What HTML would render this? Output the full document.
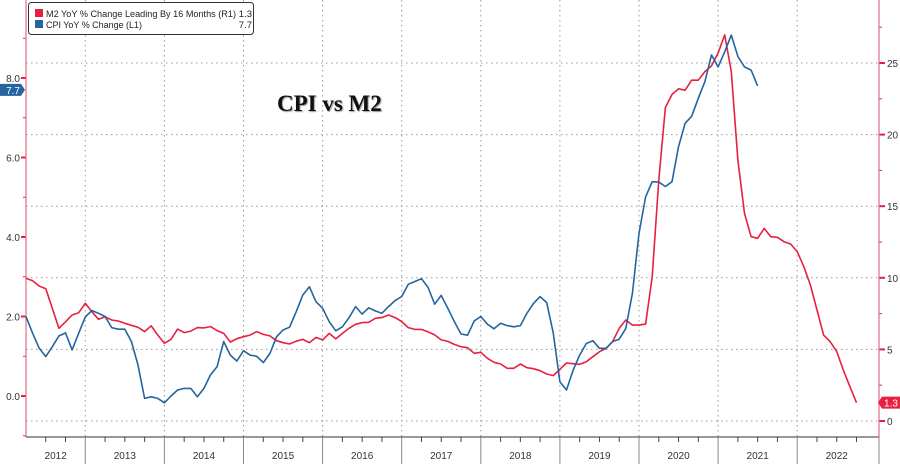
<!DOCTYPE html>
<html><head><meta charset="utf-8"><style>
html,body{margin:0;padding:0;background:#fff;width:900px;height:464px;overflow:hidden}
svg{display:block;font-family:"Liberation Sans",sans-serif}
</style></head><body>
<svg id="chart" width="900" height="464" viewBox="0 0 900 464">
<g id="grid"></g>
<g id="axes"></g>
<g id="series"></g>
<text x="277" y="111" font-family="Liberation Serif, serif" font-size="23" font-weight="bold" fill="#111" style="text-shadow:1px 1px 1px #999">CPI vs M2</text>
<g>
<rect x="28.5" y="2.5" width="225" height="32" rx="3" fill="#fff" stroke="#333" stroke-width="1"/>
<g><rect x="35" y="9" width="8" height="8" fill="#e8203f"/><text x="46" y="17" font-size="9" fill="#222" textLength="190" lengthAdjust="spacingAndGlyphs">M2 YoY % Change Leading By 16 Months (R1)</text><text x="252" y="17" font-size="9.5" fill="#222" text-anchor="end">1.3</text></g>
<g><rect x="35" y="20" width="8" height="8" fill="#2465a0"/><text x="46" y="28" font-size="9" fill="#222" textLength="96" lengthAdjust="spacingAndGlyphs">CPI YoY % Change (L1)</text><text x="252" y="28" font-size="9.5" fill="#222" text-anchor="end">7.7</text></g>
</g>
</svg>
<script>
const years = ["2012","2013","2014","2015","2016","2017","2018","2019","2020","2021","2022"];
const leftTicks = [0,2,4,6,8];
const rightTicks = [0,5,10,15,20,25];
const m2StartMonth = 3;
const m2Values = [9.97,9.8,9.43,9.24,7.87,6.47,6.93,7.4,7.56,8.22,7.63,7.1,7.28,7.05,6.98,6.82,6.68,6.54,6.24,6.65,6.0,5.43,5.7,6.42,6.17,6.28,6.52,6.5,6.59,6.31,6.12,5.52,5.75,5.89,6.0,6.24,6.05,5.94,5.61,5.47,5.38,5.57,5.7,5.47,5.84,
5.66,6.12,5.73,6.12,6.47,6.75,6.87,6.89,7.17,7.22,7.40,7.22,6.94,6.52,6.40,6.40,6.22,6.01,5.66,5.56,5.35,5.19,5.12,4.73,4.80,4.38,4.10,3.98,3.68,3.68,3.98,3.72,3.65,3.51,3.28,3.17,3.61,4.05,4.00,3.96,4.14,4.49,
4.84,5.07,5.54,6.47,7.05,6.70,6.70,6.77,10.08,16.83,21.9,22.8,23.2,23.1,23.8,23.8,24.4,24.8,25.7,26.96,24.4,18.2,14.5,12.87,12.76,13.45,12.87,12.83,12.52,12.36,11.83,10.78,9.5,7.75,6.0,5.54,4.84,3.56,2.4,1.28];
const cpiStartMonth = 3;
const cpiValues = [2.0,1.58,1.2,0.99,1.24,1.51,1.59,1.16,1.58,1.99,2.15,2.08,2.0,1.72,1.68,1.68,1.37,0.78,-0.06,-0.02,-0.06,-0.17,0.0,0.15,0.19,0.19,-0.02,0.19,0.53,0.74,1.37,1.03,0.88,1.14,1.03,1.0,0.84,1.07,1.49,1.66,1.73,2.12,2.54,2.75,2.37,
2.21,1.87,1.64,1.74,1.97,2.25,2.06,2.22,2.14,2.08,2.25,2.40,2.50,2.81,2.88,2.95,2.73,2.31,2.53,2.21,1.87,1.56,1.53,1.89,2.0,1.81,1.69,1.83,1.77,1.74,1.77,2.08,2.33,2.50,2.35,1.58,0.36,0.15,0.65,1.03,
1.32,1.39,1.20,1.20,1.37,1.43,1.70,2.58,4.09,5.01,5.39,5.38,5.27,5.39,6.27,6.86,7.04,7.49,7.91,8.58,8.28,8.66,9.08,8.54,8.28,8.20,7.80];

const NS="http://www.w3.org/2000/svg";
const X0=6.2, MW=79.1/12, L=26, R=879, B=437;
const xm=m=>X0+MW*m;
const yL=v=>396-v*39.75;
const yR=v=>421-v*14.32;
function mk(tag,attrs,parent){const e=document.createElementNS(NS,tag);for(const k in attrs)e.setAttribute(k,attrs[k]);parent.appendChild(e);return e;}
const grid=document.getElementById('grid'),axes=document.getElementById('axes'),series=document.getElementById('series');

rightTicks.forEach(v=>{
  const l=mk('line',{x1:L,x2:R,y1:yR(v),y2:yR(v),stroke:'#999','stroke-dasharray':'1.5,3.5','stroke-width':1},grid);
  
  
  const t=mk('line',{x1:R,x2:R+6,y1:yR(v),y2:yR(v),stroke:'#e8203f','stroke-width':2},axes);
  
  
  const tx=mk('text',{x:R+8,y:yR(v)+4,'font-size':10,fill:'#333'},axes);tx.textContent=v;
  
  
});
for(let v=2.5;v<28;v+=5){mk('line',{x1:R,x2:R+3,y1:yR(v),y2:yR(v),stroke:'#e8203f','stroke-width':1},axes);}
leftTicks.forEach(v=>{
  const t=mk('line',{x1:L-5,x2:L,y1:yL(v),y2:yL(v),stroke:'#e8203f','stroke-width':2},axes);
  
  
  const tx=mk('text',{x:L-6,y:yL(v)+4,'font-size':10,fill:'#333','text-anchor':'end'},axes);tx.textContent=v.toFixed(1);
  
  
});
for(let v=-1;v<=9;v+=2){mk('line',{x1:L-3,x2:L,y1:yL(v),y2:yL(v),stroke:'#e8203f','stroke-width':1},axes);}
mk('line',{x1:L,x2:L,y1:0,y2:B,stroke:'#e46a84','stroke-width':1.2},axes);
mk('line',{x1:R,x2:R,y1:0,y2:B,stroke:'#e46a84','stroke-width':1.2},axes);
mk('line',{x1:L,x2:R,y1:B,y2:B,stroke:'#333','stroke-width':1},axes);

years.forEach((y,i)=>{
  const m=i*12, xs=xm(m), xe=Math.min(xm(m+12),R);
  if(i>0){
    const g=mk('line',{x1:xs,x2:xs,y1:0,y2:B,stroke:'#999','stroke-dasharray':'1.5,3.5','stroke-width':1},grid);
    
    
    mk('line',{x1:xs,x2:xs,y1:B,y2:464,stroke:'#888','stroke-width':1},axes);
  }
  for(let q=1;q<4;q++){const xq=xm(m+q*3);if(xq>L&&xq<R)mk('line',{x1:xq,x2:xq,y1:B,y2:B+5,stroke:'#444','stroke-width':1},axes);}
  const cx=(Math.max(xs,L)+xe)/2;
  const t=mk('text',{x:cx,y:459,'font-size':10,fill:'#333','text-anchor':'middle'},axes);t.textContent=y;
  
  
});
mk('line',{x1:R,x2:R,y1:B,y2:464,stroke:'#888','stroke-width':1},axes);

function line(vals,start,yf,color,name){
  const d=vals.map((v,i)=>(i?'L':'M')+xm(start+i).toFixed(1)+','+yf(v).toFixed(1)).join('');
  const p=mk('path',{d:d,fill:'none',stroke:color,'stroke-width':1.6,'stroke-linejoin':'round'},series);
  
  
}
line(m2Values,m2StartMonth,yR,'#e8203f','m2-line');
line(cpiValues,cpiStartMonth,yL,'#2465a0','cpi-line');

const lastCpi=7.7, lastM2=m2Values[m2Values.length-1];
const by=yL(lastCpi);
const b1=mk('path',{d:`M0,${by-6}H21L25,${by}L21,${by+6}H0Z`,fill:'#2465a0'},axes);


const bt=mk('text',{x:20,y:by+4,'font-size':10,fill:'#fff','text-anchor':'end'},axes);bt.textContent=lastCpi.toFixed(1);
const ry=yR(lastM2);
const b2=mk('path',{d:`M900,${ry-6}H882L878,${ry}L882,${ry+6}H900Z`,fill:'#e8203f'},axes);


const rt=mk('text',{x:884,y:ry+4,'font-size':10,fill:'#fff'},axes);rt.textContent=lastM2.toFixed(1);
</script>
</body></html>
